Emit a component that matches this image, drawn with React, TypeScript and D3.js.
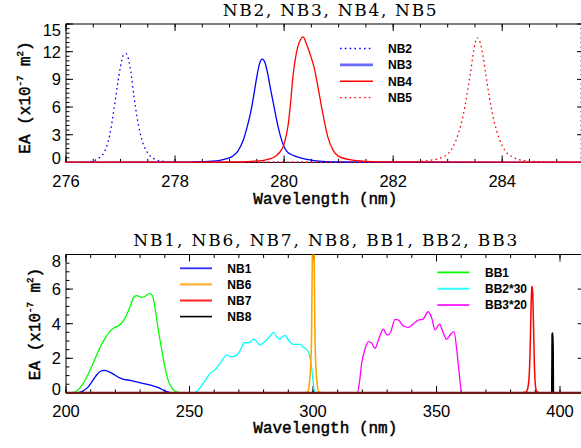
import React from "react";
import * as d3 from "d3";

type Pt = [number, number];

// ---------- Top panel data: wavelength (nm), EA (x1e-7 m^2) ----------
const NB2: Pt[] = [
  [276.0, 0.0], [276.4, 0.05], [276.5, 0.15], [276.6, 0.45], [276.7, 1.1], [276.75, 1.8],
  [276.8, 2.9], [276.85, 4.6], [276.9, 6.6], [276.95, 8.6], [277.0, 10.4], [277.05, 11.6],
  [277.1, 11.8], [277.15, 11.1], [277.2, 9.4], [277.25, 7.0], [277.3, 5.0], [277.35, 3.4],
  [277.4, 2.3], [277.5, 1.0], [277.6, 0.45], [277.7, 0.2], [277.8, 0.1], [278.0, 0.03],
  [280.0, 0.01], [285.5, 0.0],
];
const NB3: Pt[] = [
  [276.0, 0.0], [278.0, 0.02], [278.5, 0.08], [278.8, 0.2], [278.95, 0.4], [279.05, 0.65],
  [279.15, 1.2], [279.25, 2.4], [279.32, 3.8], [279.4, 5.8], [279.45, 7.5], [279.5, 9.3],
  [279.55, 10.7], [279.6, 11.2], [279.65, 10.8], [279.7, 9.6], [279.75, 8.0], [279.8, 6.5],
  [279.85, 5.0], [279.9, 3.6], [279.95, 2.5], [280.0, 1.7], [280.05, 1.2], [280.15, 0.8],
  [280.3, 0.5], [280.5, 0.25], [280.7, 0.12], [281.0, 0.05], [282.0, 0.02], [285.5, 0.0],
];
const NB4: Pt[] = [
  [276.0, 0.02], [278.5, 0.03], [279.0, 0.05], [279.4, 0.12], [279.6, 0.2], [279.75, 0.4],
  [279.85, 0.7], [279.92, 1.1], [280.0, 2.0], [280.07, 3.9], [280.12, 6.5], [280.16, 9.2],
  [280.2, 11.0], [280.25, 12.5], [280.3, 13.3], [280.35, 13.6], [280.4, 13.0], [280.45, 12.2],
  [280.5, 11.3], [280.55, 10.3], [280.62, 8.2], [280.7, 5.6], [280.8, 2.8], [280.9, 1.3],
  [281.0, 0.65], [281.2, 0.3], [281.5, 0.12], [282.0, 0.05], [285.5, 0.02],
];
const NB5: Pt[] = [
  [276.0, 0.01], [282.0, 0.02], [282.4, 0.08], [282.7, 0.25], [282.9, 0.55], [283.0, 0.9],
  [283.1, 1.7], [283.2, 3.2], [283.28, 5.0], [283.35, 7.2], [283.42, 9.8], [283.48, 12.2],
  [283.54, 13.5], [283.6, 12.9], [283.65, 11.5], [283.7, 9.5], [283.77, 6.9], [283.85, 4.5],
  [283.95, 2.5], [284.05, 1.3], [284.2, 0.55], [284.4, 0.2], [284.7, 0.06], [285.0, 0.02],
  [285.5, 0.01],
];

// ---------- Bottom panel data ----------
const NB1: Pt[] = [
  [200, 0], [205, 0.02], [207, 0.12], [209, 0.35], [211, 0.75], [212.5, 1.05], [214, 1.25],
  [215.5, 1.3], [217, 1.25], [219, 1.1], [221, 0.92], [223, 0.8], [226, 0.72], [229, 0.62],
  [232, 0.52], [235, 0.42], [237.5, 0.3], [239.5, 0.15], [241.5, 0.05], [244, 0], [410, 0],
];
const NB6: Pt[] = [
  [296, 0], [297.8, 0.05], [298.5, 0.5], [299.0, 1.4], [299.4, 3.2], [299.7, 7.5], [299.9, 12],
  [300.1, 14], [300.3, 12], [300.5, 7.5], [300.8, 3.2], [301.2, 1.4], [301.7, 0.5], [302.4, 0.05],
  [304, 0],
];
const NB7: Pt[] = [
  [384, 0], [386.3, 0.05], [387.0, 0.3], [387.6, 1.2], [388.0, 3.0], [388.3, 5.0], [388.6, 6.1],
  [388.8, 6.15], [389.0, 5.6], [389.3, 3.8], [389.6, 1.8], [390.0, 0.5], [390.6, 0.08], [392, 0],
];
const NB8: Pt[] = [
  [395, 0], [396.7, 0], [396.85, 3.4], [397.15, 3.45], [397.3, 0], [399, 0],
];
const BB1: Pt[] = [
  [200, 0], [202, 0.01], [204, 0.08], [206, 0.35], [208, 0.8], [210, 1.4], [212, 2.05],
  [214, 2.7], [216, 3.2], [218, 3.6], [220, 3.8], [222, 3.95], [224, 4.35], [226, 5.0],
  [227.5, 5.55], [228.8, 5.62], [230.5, 5.52], [232.3, 5.6], [233.8, 5.75], [235, 5.62],
  [236, 4.95], [237.3, 3.7], [238.5, 2.7], [239.5, 1.9], [241.2, 0.8], [243, 0.25], [245, 0.04],
  [247, 0],
];
const BB2x30: Pt[] = [
  [250, 0], [252, 0.02], [253.5, 0.15], [255.5, 0.55], [257, 0.85], [258.3, 1.13], [260.3, 1.32],
  [262.3, 1.7], [264, 2.05], [265, 2.2], [266.5, 2.1], [267.7, 2.1], [269.8, 2.3], [271, 2.6],
  [272, 2.9], [273.8, 2.9], [275, 3.0], [276.1, 3.1], [277.3, 2.95], [278.5, 2.77], [280, 2.9],
  [281.2, 3.06], [282.5, 3.25], [283.9, 3.5], [285.3, 3.25], [286.6, 3.1], [287.7, 3.25],
  [288.7, 3.32], [289.8, 3.1], [290.7, 2.95], [291.7, 2.82], [292.7, 2.8], [294, 2.8],
  [294.7, 2.82], [296, 2.65], [296.8, 2.58], [298.1, 2.38], [298.8, 2.0], [299.5, 1.4],
  [300, 0.7], [300.5, 0.15], [301, 0],
];
const BB3x20: Pt[] = [
  [315, 0], [317.9, 0], [318.8, 0.6], [319.7, 1.7], [321, 2.5], [322.4, 2.96], [323.8, 2.87],
  [325.1, 2.58], [326.5, 3.06], [328.5, 3.68], [329.9, 3.35], [331.2, 3.44], [333.2, 4.25],
  [334.6, 4.21], [336.6, 3.87], [338.6, 3.79], [340.6, 3.98], [342.6, 4.21], [344.4, 4.25],
  [346.7, 4.69], [348.1, 4.31], [349.4, 3.64], [351.2, 3.98], [352.8, 3.44], [354.1, 3.1],
  [355.5, 3.35], [357.1, 3.54], [358.2, 2.48], [359.2, 1.13], [360.2, 0], [362, 0],
];

// ---------- Ticks / titles ----------
const TOP_X_TICKS = [276, 278, 280, 282, 284];
const TOP_Y_TICKS = [0, 3, 6, 9, 12, 15];
const BOT_X_TICKS = [200, 250, 300, 350, 400];
const BOT_Y_TICKS = [0, 2, 4, 6, 8];
const TOP_TITLE = "NB2, NB3, NB4, NB5";
const BOT_TITLE = "NB1, NB6, NB7, NB8, BB1, BB2, BB3";
const X_LABEL = "Wavelength (nm)";

interface SeriesDef {
  name: string;
  data: Pt[];
  color: string;
  dash?: string;
  width?: number;
}
interface LegendDef {
  x1: number;
  x2: number;
  tx: number;
  y0: number;
  dy: number;
  items: { name: string; color: string; dash?: string; width?: number }[];
}
interface PanelProps {
  id: string;
  left: number;
  right: number;
  top: number;
  bottom: number;
  xDomain: [number, number];
  yDomain: [number, number];
  xTicks: number[];
  yTicks: number[];
  xMinor: number;
  yMinor: number;
  series: SeriesDef[];
  legends: LegendDef[];
  title: string;
  titleX: number;
  titleY: number;
  titleLen: number;
  xLabelX: number;
  xLabelY: number;
  xTickLabelY: number;
  yLabelX: number;
  yLabelCY: number;
  baselineColor?: string;
}

const SANS = "'Liberation Sans', Arial, sans-serif";
const SERIF = "'DejaVu Serif', serif";
const MONO = "'Liberation Mono', monospace";

function Panel(p: PanelProps) {
  const x = d3.scaleLinear().domain(p.xDomain).range([p.left, p.right]);
  const y = d3.scaleLinear().domain(p.yDomain).range([p.bottom, p.top]);
  const line = d3
    .line<Pt>()
    .x((d) => x(d[0]))
    .y((d) => y(d[1]))
    .curve(d3.curveMonotoneX);
  const xMinor = d3.range(p.xDomain[0], p.xDomain[1] + 1e-9, p.xMinor);
  const yMinor = d3.range(p.yDomain[0], p.yDomain[1] + 1e-9, p.yMinor);
  const MAJ = 7;
  const MIN = 3.5;
  const clipId = `clip-${p.id}`;
  return (
    <g>
      <defs>
        <clipPath id={clipId}>
          <rect x={p.left} y={p.top} width={p.right - p.left} height={p.bottom - p.top + 2} />
        </clipPath>
      </defs>
      <rect x={p.left} y={p.top} width={p.right - p.left} height={p.bottom - p.top} fill="none" stroke="#000" strokeWidth={1} />
      {xMinor.map((v, i) => (
        <g key={`xm${i}`} stroke="#000" strokeWidth={1}>
          <line x1={x(v)} x2={x(v)} y1={p.bottom} y2={p.bottom - MIN} />
          <line x1={x(v)} x2={x(v)} y1={p.top} y2={p.top + MIN} />
        </g>
      ))}
      {yMinor.map((v, i) => (
        <g key={`ym${i}`} stroke="#000" strokeWidth={1}>
          <line x1={p.left} x2={p.left + MIN} y1={y(v)} y2={y(v)} />
          <line x1={p.right} x2={p.right - MIN} y1={y(v)} y2={y(v)} />
        </g>
      ))}
      {p.xTicks.map((v) => (
        <g key={`xt${v}`}>
          <line x1={x(v)} x2={x(v)} y1={p.bottom} y2={p.bottom - MAJ} stroke="#000" />
          <line x1={x(v)} x2={x(v)} y1={p.top} y2={p.top + MAJ} stroke="#000" />
          <text x={x(v)} y={p.xTickLabelY} textAnchor="middle" fontFamily={SANS} fontSize={16.5} fill="#000">
            {v}
          </text>
        </g>
      ))}
      {p.yTicks.map((v) => {
        const ly = Math.min(Math.max(y(v), p.top + 6.5), p.bottom - 4.3);
        return (
          <g key={`yt${v}`}>
            <line x1={p.left} x2={p.left + MAJ} y1={y(v)} y2={y(v)} stroke="#000" />
            <line x1={p.right} x2={p.right - MAJ} y1={y(v)} y2={y(v)} stroke="#000" />
            <text x={p.left - 5} y={ly} dy="0.36em" textAnchor="end" fontFamily={SANS} fontSize={16.5} fill="#000">
              {v}
            </text>
          </g>
        );
      })}
      <g clipPath={`url(#${clipId})`}>
        {p.series.map((s) => (
          <path
            key={s.name}
            d={line(s.data) || ""}
            fill="none"
            stroke={s.color}
            strokeWidth={s.width ?? 1.3}
            strokeDasharray={s.dash}
          />
        ))}
      </g>
      {p.baselineColor && (
        <line x1={p.left} x2={p.right} y1={y(0)} y2={y(0)} stroke={p.baselineColor} strokeWidth={2.2} />
      )}
      {p.legends.map((lg, li) => (
        <g key={`lg${li}`}>
          {lg.items.map((it, i) => (
            <g key={it.name}>
              <line
                x1={lg.x1}
                x2={lg.x2}
                y1={lg.y0 + i * lg.dy}
                y2={lg.y0 + i * lg.dy}
                stroke={it.color}
                strokeWidth={it.width ?? 1.6}
                strokeDasharray={it.dash}
              />
              <text x={lg.tx} y={lg.y0 + i * lg.dy} dy="0.36em" fontFamily={SANS} fontWeight="bold" fontSize={12} fill="#000">
                {it.name}
              </text>
            </g>
          ))}
        </g>
      ))}
      <text x={p.titleX} y={p.titleY} fontFamily={SERIF} fontSize={17} fill="#000" textLength={p.titleLen} lengthAdjust="spacing">
        {p.title}
      </text>
      <text
        x={p.xLabelX}
        y={p.xLabelY}
        fontFamily={MONO}
        fontSize={16}
        fill="#000"
        stroke="#000"
        strokeWidth={0.45}
        textLength={144}
        lengthAdjust="spacing"
      >
        {X_LABEL}
      </text>
      <text
        transform={`translate(${p.yLabelX},${p.yLabelCY}) rotate(-90)`}
        textAnchor="middle"
        fontFamily={MONO}
        fontSize={16}
        fill="#000"
        stroke="#000"
        strokeWidth={0.45}
      >
        EA (x10
        <tspan fontSize={9} dy={-7}>-7</tspan>
        <tspan dy={7}> m</tspan>
        <tspan fontSize={9} dy={-7}>2</tspan>
        <tspan dy={7}>)</tspan>
      </text>
    </g>
  );
}

export default function App() {
  const topSeries: SeriesDef[] = [
    { name: "NB2", data: NB2, color: "#0000ff", dash: "1.6 3.2" },
    { name: "NB3", data: NB3, color: "#0000ff" },
    { name: "NB5", data: NB5, color: "#ff0000", dash: "1.6 3.2" },
    { name: "NB4", data: NB4, color: "#ff0000" },
  ];
  const botSeries: SeriesDef[] = [
    { name: "NB1", data: NB1, color: "#0000ff" },
    { name: "BB1", data: BB1, color: "#00ff00" },
    { name: "BB2*30", data: BB2x30, color: "#00ffff" },
    { name: "BB3*20", data: BB3x20, color: "#ff00ff" },
    { name: "NB6", data: NB6, color: "#ffa500", width: 1.6 },
    { name: "NB7", data: NB7, color: "#ff0000", width: 1.5 },
    { name: "NB8", data: NB8, color: "#000000", width: 1.8 },
  ];
  return (
    <svg width={581} height={448} style={{ position: "absolute", left: 0, top: 0, background: "#fff" }}>
      <rect x={0} y={0} width={581} height={448} fill="#fff" />
      <Panel
        id="top"
        left={66}
        right={584}
        top={24}
        bottom={162.4}
        xDomain={[276, 285.5]}
        yDomain={[0, 15]}
        xTicks={TOP_X_TICKS}
        yTicks={TOP_Y_TICKS}
        xMinor={0.5}
        yMinor={0.5}
        series={topSeries}
        legends={[
          {
            x1: 340,
            x2: 373,
            tx: 388,
            y0: 48.5,
            dy: 16.4,
            items: [
              { name: "NB2", color: "#0000ff", dash: "1.6 3.2", width: 1.3 },
              { name: "NB3", color: "#6a6aff", width: 2.6 },
              { name: "NB4", color: "#ff0000", width: 1.5 },
              { name: "NB5", color: "#ff0000", dash: "1.6 3.2", width: 1.3 },
            ],
          },
        ]}
        title={TOP_TITLE}
        titleX={222.7}
        titleY={15.5}
        titleLen={214}
        xLabelX={253.3}
        xLabelY={204}
        xTickLabelY={186.5}
        yLabelX={29.5}
        yLabelCY={97.5}
      />
      <Panel
        id="bot"
        left={66}
        right={584.7}
        top={254.5}
        bottom={392.9}
        xDomain={[200, 410]}
        yDomain={[0, 8]}
        xTicks={BOT_X_TICKS}
        yTicks={BOT_Y_TICKS}
        xMinor={10}
        yMinor={0.5}
        series={botSeries}
        baselineColor="#6e1a14"
        legends={[
          {
            x1: 180,
            x2: 212,
            tx: 227.3,
            y0: 268.3,
            dy: 16.1,
            items: [
              { name: "NB1", color: "#3030ff", width: 1.8 },
              { name: "NB6", color: "#ffb030", width: 2.2 },
              { name: "NB7", color: "#ff2020", width: 2 },
              { name: "NB8", color: "#000000", width: 1.6 },
            ],
          },
          {
            x1: 437.3,
            x2: 469.3,
            tx: 485,
            y0: 272.3,
            dy: 16.4,
            items: [
              { name: "BB1", color: "#00ff00", width: 1.8 },
              { name: "BB2*30", color: "#30ffff", width: 2 },
              { name: "BB3*20", color: "#ff30ff", width: 2 },
            ],
          },
        ]}
        title={BOT_TITLE}
        titleX={133.3}
        titleY={246}
        titleLen={384}
        xLabelX={253.3}
        xLabelY={433.3}
        xTickLabelY={417}
        yLabelX={40}
        yLabelCY={324}
      />
    </svg>
  );
}
